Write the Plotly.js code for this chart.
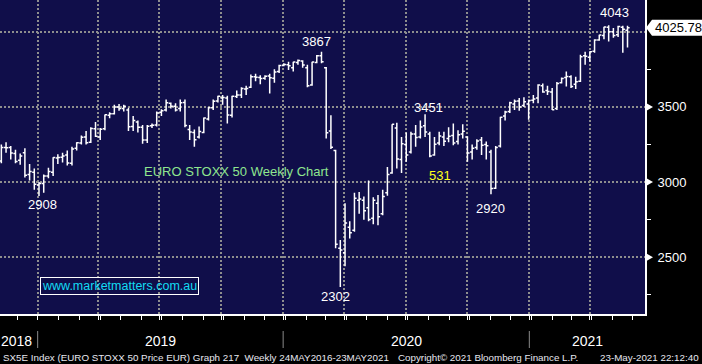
<!DOCTYPE html>
<html><head><meta charset="utf-8">
<script src="https://cdn.plot.ly/plotly-3.0.1.min.js"></script>
<style>html,body{margin:0;padding:0;background:#000;}#chart{width:702px;height:364px;}</style>
</head><body><div id="chart"></div>
<script>
// Weekly bars (week-ending Friday)
const weeks = [
 '2018-11-02','2018-11-09','2018-11-16','2018-11-23','2018-11-30','2018-12-07','2018-12-14','2018-12-21','2018-12-28',
 '2019-01-04','2019-01-11','2019-01-18','2019-01-25','2019-02-01','2019-02-08','2019-02-15','2019-02-22',
 '2019-03-01','2019-03-08','2019-03-15','2019-03-22','2019-03-29','2019-04-05','2019-04-12','2019-04-19','2019-04-26',
 '2019-05-03','2019-05-10','2019-05-17','2019-05-24','2019-05-31','2019-06-07','2019-06-14','2019-06-21','2019-06-28',
 '2019-07-05','2019-07-12','2019-07-19','2019-07-26','2019-08-02','2019-08-09','2019-08-16','2019-08-23','2019-08-30',
 '2019-09-06','2019-09-13','2019-09-20','2019-09-27','2019-10-04','2019-10-11','2019-10-18','2019-10-25',
 '2019-11-01','2019-11-08','2019-11-15','2019-11-22','2019-11-29','2019-12-06','2019-12-13','2019-12-20','2019-12-27',
 '2020-01-03','2020-01-10','2020-01-17','2020-01-24','2020-01-31','2020-02-07','2020-02-14','2020-02-21','2020-02-28',
 '2020-03-06','2020-03-13','2020-03-20','2020-03-27','2020-04-03','2020-04-10','2020-04-17','2020-04-24',
 '2020-05-01','2020-05-08','2020-05-15','2020-05-22','2020-05-29','2020-06-05','2020-06-12','2020-06-19','2020-06-26',
 '2020-07-03','2020-07-10','2020-07-17','2020-07-24','2020-07-31','2020-08-07','2020-08-14','2020-08-21','2020-08-28',
 '2020-09-04','2020-09-11','2020-09-18','2020-09-25','2020-10-02','2020-10-09','2020-10-16','2020-10-23','2020-10-30',
 '2020-11-06','2020-11-13','2020-11-20','2020-11-27','2020-12-04','2020-12-11','2020-12-18','2020-12-25',
 '2021-01-01','2021-01-08','2021-01-15','2021-01-22','2021-01-29','2021-02-05','2021-02-12','2021-02-19','2021-02-26',
 '2021-03-05','2021-03-12','2021-03-19','2021-03-26','2021-04-02','2021-04-09','2021-04-16','2021-04-23','2021-04-30',
 '2021-05-07','2021-05-14','2021-05-21'
];
const opens = [
 3140,3230,3230,3190,3145,3195,3050,3065,2980,
 2990,3040,3065,3160,3165,3180,3125,3225,
 3260,3300,3265,3355,3300,3355,3445,3455,3500,
 3490,3480,3370,3400,3365,3280,3375,3380,3465,
 3480,3525,3505,3490,3530,3350,3330,3300,3330,
 3420,3495,3540,3560,3560,3445,3570,3580,
 3620,3630,3700,3695,3690,3705,3690,3735,3775,
 3780,3760,3795,3805,3760,3645,3795,3840,3760,
 3340,3210,2560,2530,2700,2680,2880,2880,
 2830,2760,2860,2790,2930,3060,3360,3150,3250,
 3200,3320,3300,3375,3320,3180,3260,3300,3290,
 3310,3270,3320,3300,3200,3230,3280,3250,3200,
 2960,3240,3440,3470,3520,3540,3510,3520,
 3545,3560,3640,3610,3600,3490,3660,3695,3700,
 3650,3670,3840,3830,3870,3945,3975,4030,4000,
 3980,4030,4010
];
const highs = [
 3250,3265,3240,3215,3190,3225,3120,3090,3000,
 3050,3095,3165,3185,3195,3210,3235,3265,
 3310,3340,3365,3400,3360,3450,3465,3515,3520,
 3515,3495,3440,3410,3380,3380,3390,3470,3485,
 3550,3530,3525,3550,3550,3380,3350,3370,3430,
 3500,3550,3575,3580,3575,3575,3610,3630,
 3640,3715,3720,3710,3710,3720,3750,3780,3790,
 3800,3800,3815,3810,3780,3800,3845,3867,3765,
 3445,3215,2615,2860,2740,2930,2935,2905,
 3010,2900,2915,2950,3100,3385,3395,3300,3330,
 3335,3380,3410,3451,3335,3300,3335,3335,3365,
 3390,3345,3385,3305,3250,3285,3300,3270,3215,
 3240,3435,3475,3535,3550,3560,3565,3550,
 3580,3650,3655,3640,3625,3665,3695,3735,3710,
 3700,3847,3867,3870,3950,3980,4033,4043,4025,
 4040,4040,4040
];
const lows = [
 3125,3195,3150,3125,3115,3030,3010,2950,2908,
 2930,3025,3040,3120,3130,3110,3110,3210,
 3250,3250,3260,3300,3280,3345,3425,3450,3475,
 3470,3340,3340,3330,3255,3260,3360,3370,3440,
 3470,3490,3470,3470,3365,3280,3235,3290,3325,
 3410,3480,3530,3515,3390,3430,3560,3560,
 3580,3625,3670,3650,3680,3590,3660,3725,3770,
 3745,3735,3780,3760,3630,3640,3790,3790,3290,
 3220,2560,2302,2440,2625,2670,2790,2750,
 2740,2720,2713,2780,2910,3055,3090,3060,3135,
 3190,3235,3290,3300,3165,3175,3245,3240,3265,
 3245,3250,3290,3135,3150,3215,3180,3150,2920,
 2955,3230,3410,3460,3480,3475,3500,3415,
 3525,3525,3595,3580,3480,3480,3655,3635,3625,
 3620,3665,3780,3800,3860,3940,3950,3935,3960,
 3965,3860,3895
];
const closes = [
 3230,3229,3193,3137,3173,3045,3070,2986,2990,
 3041,3070,3163,3164,3173,3127,3220,3262,
 3298,3262,3356,3305,3352,3448,3455,3500,3490,
 3505,3368,3410,3365,3280,3372,3378,3460,3474,
 3527,3505,3480,3527,3376,3333,3282,3337,3427,
 3495,3538,3571,3562,3447,3571,3580,3622,
 3623,3700,3697,3689,3704,3694,3732,3776,3782,
 3773,3798,3808,3779,3640,3798,3840,3800,3329,
 3232,2586,2549,2728,2663,2892,2888,2809,
 2752,2880,2770,2905,3050,3384,3153,3255,3180,
 3320,3296,3366,3333,3174,3252,3306,3272,3305,
 3260,3315,3338,3193,3226,3273,3245,3241,2958,
 3230,3432,3467,3527,3537,3500,3535,3543,
 3553,3645,3600,3602,3481,3655,3689,3703,3636,
 3668,3833,3837,3867,3945,3978,4032,4000,3975,
 4035,4017,4026
];
const lastPrice = 4025.78;
const yTickVals = [2500, 3000, 3500, 4000];
const yTickText = ['2500', '3000', '3500', ''];
const yMinorVals = [2250, 2750, 3250, 3750];
const gridDates = ['2018-12-26','2019-03-26','2019-06-25','2019-09-25','2019-12-26','2020-03-26','2020-06-25','2020-09-25','2020-12-26','2021-03-26'];
const yearBreaks = ['2018-12-26','2019-12-26','2020-12-26'];
const yearLabels = ['2018','2019','2020','2021'];
const pointLabels = ['2908','3867','3451','2920','2302','4043'];
const chartTitle = 'EURO STOXX 50 Weekly Chart';
const countLabel = '531';
const siteLabel = 'www.marketmatters.com.au';
const footLeft = 'SX5E Index (EURO STOXX 50 Price EUR) Graph 217  Weekly 24MAY2016-23MAY2021';
const footMid = 'Copyright\u00A9 2021 Bloomberg Finance L.P.';
const footRight = '23-May-2021 22:12:40';

// layout geometry (pixels)
const PW = 645, PH = 314;
const yMin = 2123, yMax = 4211;
const px = x => x / PW;
const py = y => 1 - y / PH;
const vy = v => (v - yMin) / (yMax - yMin);

const trace = {
  type: 'ohlc', x: weeks, open: opens, high: highs, low: lows, close: closes,
  increasing: {line: {color: '#ffffff', width: 1.5}},
  decreasing: {line: {color: '#ffffff', width: 1.5}},
  tickwidth: 0.45, hoverinfo: 'skip'
};

const FONT = 'Liberation Sans, Arial, sans-serif';
const gridStyle = {gridcolor: '#8e8e8e', griddash: '2px,2px', gridwidth: 2};
const txt = (text, x, y, opts) => Object.assign({
  text: text, x: px(x), y: py(y), xref: 'paper', yref: 'paper', showarrow: false,
  xanchor: 'center', yanchor: 'middle',
  font: {family: FONT, size: 13, color: '#ffffff'}
}, opts || {});

const pointPos = [[42, 204], [316, 42], [428, 108], [490, 208], [335, 296], [614, 13]];
const annotations = pointLabels.map((t, i) => txt(t, pointPos[i][0], pointPos[i][1]));
annotations.push(txt(chartTitle, 236.5, 171, {font: {family: FONT, size: 13, color: '#8fe68f'}}));
annotations.push(txt(countLabel, 440, 175, {font: {family: FONT, size: 13, color: '#ffff1a'}}));
annotations.push(txt(siteLabel, 119, 285.5, {font: {family: FONT, size: 12.5, color: '#12dcf2'},
  bordercolor: '#ffffff', borderwidth: 1, borderpad: 1, bgcolor: 'rgba(0,0,0,0)'}));
const yearPos = [16, 160.5, 406, 587];
yearLabels.forEach((t, i) => annotations.push(txt(t, yearPos[i], 340.5,
  {font: {family: FONT, size: 14, color: '#ffffff'}})));
const footFont = {family: FONT, size: 9.8, color: '#e8e8f0'};
annotations.push(txt(footLeft, 1, 357, {xanchor: 'left', font: footFont}));
annotations.push(txt(footMid, 396, 357, {xanchor: 'left', font: footFont}));
annotations.push(txt(footRight, 701, 357, {xanchor: 'right', font: footFont}));
annotations.push({text: lastPrice.toFixed(2), x: px(653), y: vy(lastPrice), xref: 'paper', yref: 'paper',
  showarrow: false, xanchor: 'left', yanchor: 'middle',
  font: {family: FONT, size: 13, color: '#000000'}});

const shapes = [];
yTickVals.forEach((v, i) => {
  if (!yTickText[i]) return;
  const t = vy(v), d = 4 / PH;
  shapes.push({type: 'path', xref: 'paper', yref: 'paper',
    path: `M ${px(646)},${t + d} L ${px(653)},${t} L ${px(646)},${t - d} Z`,
    fillcolor: '#ffffff', line: {width: 0}});
});
{
  const t = vy(lastPrice), d = 8 / PH;
  shapes.push({type: 'path', xref: 'paper', yref: 'paper',
    path: `M ${px(646)},${t} L ${px(652)},${t + d} L ${px(702)},${t + d} L ${px(702)},${t - d} L ${px(652)},${t - d} Z`,
    fillcolor: '#ffffff', line: {width: 0}});
}
yearBreaks.forEach(d => shapes.push({type: 'line', xref: 'x', yref: 'paper', x0: d, x1: d,
  y0: py(331), y1: py(348), line: {color: '#8a8a8a', width: 1}}));

const layout = {
  width: 702, height: 364,
  margin: {l: 0, r: 57, t: 0, b: 50, pad: 0},
  paper_bgcolor: '#000000', plot_bgcolor: '#100e4a',
  showlegend: false,
  xaxis: Object.assign({
    type: 'date', range: ['2018-10-31', '2021-06-16'], rangeslider: {visible: false},
    tickmode: 'array', tickvals: gridDates, showticklabels: false,
    ticks: 'outside', ticklen: 4, tickcolor: '#ffffff', tickwidth: 1,
    minor: {tickmode: 'linear', tick0: '2018-12-26', dtick: 'M1', ticks: 'outside', ticklen: 4, tickcolor: '#ffffff', tickwidth: 1, showgrid: false},
    showline: true, linecolor: '#ffffff', linewidth: 2, zeroline: false, fixedrange: true
  }, gridStyle),
  yaxis: Object.assign({
    side: 'right', range: [yMin, yMax], tickmode: 'array', tickvals: yTickVals, ticktext: yTickText,
    ticks: 'outside', ticklen: 8, tickcolor: 'rgba(0,0,0,0)',
    tickfont: {family: FONT, size: 13, color: '#ffffff'},
    minor: {tickmode: 'array', tickvals: yMinorVals, ticks: 'outside', ticklen: 4, tickcolor: '#ffffff', tickwidth: 1, showgrid: false},
    showline: true, linecolor: '#ffffff', linewidth: 2, zeroline: false, fixedrange: true
  }, gridStyle),
  annotations: annotations,
  shapes: shapes
};

Plotly.newPlot('chart', [trace], layout, {displayModeBar: false, staticPlot: true});
</script>
</body></html>
